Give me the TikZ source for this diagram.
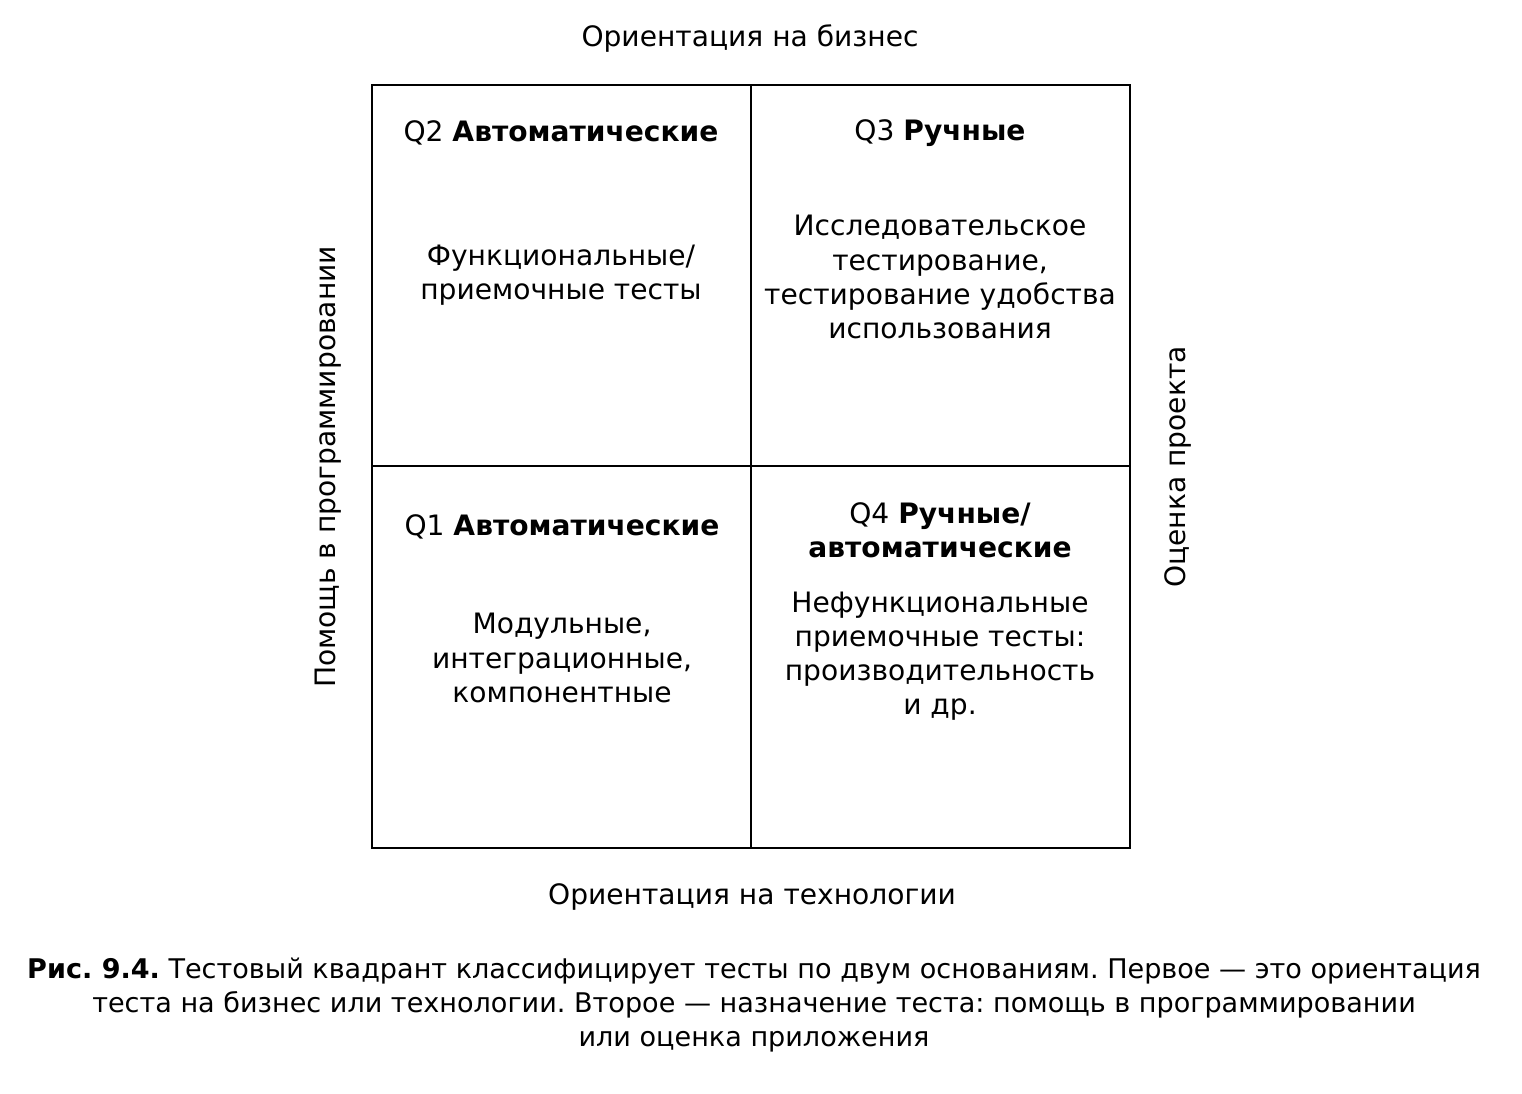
\documentclass[tikz,border=0pt]{standalone}
\usepackage{fontspec}
\setmainfont{DejaVu Sans}
\frenchspacing
\begin{document}
\begin{tikzpicture}[x=0.02cm,y=-0.02cm,
  lbl/.style={inner sep=0pt,align=center,font=\fontsize{16}{19.4}\selectfont},
  captext/.style={inner sep=0pt,align=center,font=\fontsize{15.4}{19.4}\selectfont},
  gridline/.style={line width=1.4pt,black}]
\useasboundingbox (0,0) rectangle (1522,1094);
\coordinate (tl) at (372,85);
\coordinate (br) at (1130,848);
\coordinate (tm) at (751,85);
\coordinate (bm) at (751,848);
\coordinate (lm) at (372,466);
\coordinate (rm) at (1130,466);
\draw[gridline] (tl) rectangle (br);
\draw[gridline] (tm) -- (bm);
\draw[gridline] (lm) -- (rm);
\node[lbl] (top) at (750,39) {Ориентация на бизнес};
\node[lbl] (bottom) at (752,897) {Ориентация на технологии};
\node[lbl,rotate=90] (left) at (328,467) {Помощь в программировании};
\node[lbl,rotate=90] (right) at (1178,467) {Оценка проекта};
\node[lbl] (q2h) at (561,133) {Q2 \textbf{Автоматические}};
\node[lbl] (q2t) at (561,275) {Функциональные/\\приемочные тесты};
\node[lbl] (q3h) at (940,133) {Q3 \textbf{Ручные}};
\node[lbl] (q3t) at (940,277) {Исследовательское\\тестирование,\\тестирование удобства\\использования};
\node[lbl] (q1h) at (562,527) {Q1 \textbf{Автоматические}};
\node[lbl] (q1t) at (562,658) {Модульные,\\интеграционные,\\компонентные};
\node[lbl] (q4h) at (940,530) {Q4 \textbf{Ручные/}\\\textbf{автоматические}};
\node[lbl] (q4t) at (940,656) {Нефункциональные\\приемочные тесты:\\производительность\\и~др.};
\node[captext] (caption) at (754,1005) {\textbf{Рис. 9.4.} Тестовый квадрант классифицирует тесты по двум основаниям. Первое~--- это ориентация\\теста на бизнес или технологии. Второе~--- назначение теста: помощь в программировании\\или оценка приложения};
\end{tikzpicture}
\end{document}
